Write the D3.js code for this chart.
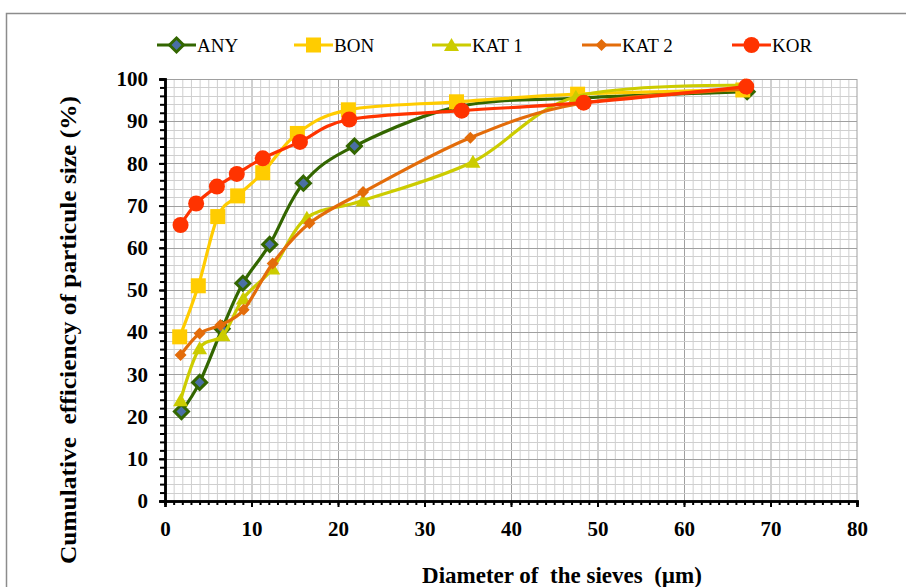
<!DOCTYPE html>
<html>
<head>
<meta charset="utf-8">
<script src="https://cdn.jsdelivr.net/npm/d3@7/dist/d3.min.js"></script>
<style>
  html, body { margin: 0; padding: 0; background: #fff; }
  svg { display: block; }
  text { font-family: "Liberation Serif", "Times New Roman", serif; white-space: pre; }
</style>
</head>
<body>
<svg id="chart" width="906" height="587"></svg>
<script>
// Sieve diameters (µm) and cumulative efficiency (%) per sample
const seriesNames = ["ANY", "BON", "KAT 1", "KAT 2", "KOR"];
const anyX  = [1.9, 4.0, 6.6, 9.0, 12.1, 16.0, 21.9, 34.0, 48.0, 67.3];
const anyY  = [21.2, 28.1, 40.8, 51.6, 60.8, 75.3, 84.1, 93.5, 95.5, 97.0];
const bonX  = [1.7, 3.85, 6.1, 8.4, 11.3, 15.3, 21.2, 33.7, 47.7, 66.8];
const bonY  = [38.9, 51.0, 67.4, 72.3, 77.8, 87.1, 92.7, 94.6, 96.4, 97.4];
const kat1X = [1.8, 4.0, 6.7, 9.05, 12.45, 16.4, 22.9, 35.6, 47.5, 67.0];
const kat1Y = [23.9, 36.2, 39.3, 48.0, 55.1, 67.1, 71.2, 80.4, 95.8, 98.5];
const kat2X = [1.8, 4.0, 6.4, 9.1, 12.45, 16.7, 22.9, 35.3, 48.0, 67.3];
const kat2Y = [34.6, 39.7, 41.7, 45.3, 56.3, 65.8, 73.2, 86.1, 94.2, 97.6];
const korX  = [1.8, 3.6, 6.0, 8.3, 11.3, 15.6, 21.3, 34.3, 48.4, 67.2];
const korY  = [65.4, 70.5, 74.5, 77.5, 81.2, 85.1, 90.4, 92.5, 94.4, 98.2];
const xTicks = [0, 10, 20, 30, 40, 50, 60, 70, 80];
const yTicks = [0, 10, 20, 30, 40, 50, 60, 70, 80, 90, 100];

const seriesX = [anyX, bonX, kat1X, kat2X, korX];
const seriesY = [anyY, bonY, kat1Y, kat2Y, korY];

const styles = {
  "ANY":   { line: "#336600", fill: "#4a6fa5", stroke: "#336600", shape: "diamond" },
  "BON":   { line: "#ffcc00", fill: "#ffcc00", stroke: "#ffcc00", shape: "square" },
  "KAT 1": { line: "#cccc00", fill: "#cccc00", stroke: "#cccc00", shape: "triangle" },
  "KAT 2": { line: "#e36c0a", fill: "#e36c0a", stroke: "#e36c0a", shape: "smalldiamond" },
  "KOR":   { line: "#ff3300", fill: "#ff3300", stroke: "#ff3300", shape: "circle" }
};

const svg = d3.select("#chart");
const plot = { left: 165, right: 857, top: 79, bottom: 501 };

const x = d3.scaleLinear().domain([0, 80]).range([plot.left, plot.right]);
const y = d3.scaleLinear().domain([0, 100]).range([plot.bottom, plot.top]);

// Outer frame
svg.append("rect")
  .attr("x", 6.5).attr("y", 13.5)
  .attr("width", 1000).attr("height", 1000)
  .attr("fill", "#fff").attr("stroke", "#8c8c8c").attr("stroke-width", 1.5);

// Grid: fine lines every 1 µm and every 2 %, heavier every 10
const grid = svg.append("g");
d3.range(1, 80).forEach(v => {
  grid.append("line")
    .attr("x1", x(v) + 0.5).attr("x2", x(v) + 0.5)
    .attr("y1", plot.top).attr("y2", plot.bottom)
    .attr("stroke", v % 10 === 0 ? "#a0a0a0" : "#cfcfcf").attr("stroke-width", 1);
});
d3.range(2, 101, 2).forEach(v => {
  grid.append("line")
    .attr("x1", plot.left).attr("x2", plot.right)
    .attr("y1", Math.round(y(v)) + 0.5).attr("y2", Math.round(y(v)) + 0.5)
    .attr("stroke", v % 10 === 0 ? "#a0a0a0" : "#cfcfcf").attr("stroke-width", 1);
});
grid.append("line")
  .attr("x1", plot.right).attr("x2", plot.right)
  .attr("y1", plot.top).attr("y2", plot.bottom)
  .attr("stroke", "#a0a0a0");

// Axes
const xAxisMinor = d3.axisBottom(x).tickValues(d3.range(0, 81, 1)).tickSize(4).tickFormat("");
const xAxis = d3.axisBottom(x).tickValues(xTicks).tickSize(6).tickPadding(14).tickFormat(d3.format("d"));
const yAxisMinor = d3.axisLeft(y).tickValues(d3.range(0, 101, 2)).tickSize(5).tickFormat("");
const yAxis = d3.axisLeft(y).tickValues(yTicks).tickSize(6).tickPadding(11).tickFormat(d3.format("d"));

function styleAxis(g) {
  g.selectAll(".domain").attr("stroke", "#000").attr("stroke-width", 2.5);
  g.selectAll(".tick line").attr("stroke", "#000").attr("stroke-width", 2);
  g.selectAll("text")
    .attr("fill", "#000")
    .style("font-family", "'Liberation Serif', 'Times New Roman', serif")
    .style("font-size", "21px").style("font-weight", "bold");
}

svg.append("g").attr("transform", `translate(0,${plot.bottom})`).call(xAxisMinor).call(styleAxis);
svg.append("g").attr("transform", `translate(0,${plot.bottom})`).call(xAxis).call(styleAxis);
svg.append("g").attr("transform", `translate(${plot.left},0)`).call(yAxisMinor).call(styleAxis);
svg.append("g").attr("transform", `translate(${plot.left},0)`).call(yAxis).call(styleAxis);

// Axis titles
svg.append("text")
  .attr("x", 562).attr("y", 583)
  .attr("text-anchor", "middle")
  .style("font-size", "23px").style("font-weight", "bold")
  .text("Diameter of  the sieves  (µm)");

svg.append("text")
  .attr("transform", "translate(76,330) rotate(-90)")
  .attr("text-anchor", "middle")
  .attr("textLength", 468).attr("lengthAdjust", "spacingAndGlyphs")
  .style("font-size", "24px").style("font-weight", "bold")
  .text("Cumulative  efficiency of particule size (%)");

// Marker shapes
function marker(g, shape, st) {
  let m;
  if (shape === "diamond") {
    m = g.append("path").attr("d", "M0,-7L7,0L0,7L-7,0Z")
      .attr("fill", st.fill).attr("stroke", st.stroke).attr("stroke-width", 3);
  } else if (shape === "smalldiamond") {
    m = g.append("path").attr("d", "M0,-6L6,0L0,6L-6,0Z").attr("fill", st.fill);
  } else if (shape === "square") {
    m = g.append("rect").attr("x", -7.5).attr("y", -7.5).attr("width", 15).attr("height", 15)
      .attr("fill", st.fill);
  } else if (shape === "triangle") {
    m = g.append("path").attr("d", "M0,-7L7.5,6L-7.5,6Z").attr("fill", st.fill);
  } else {
    m = g.append("circle").attr("r", 8).attr("fill", st.fill);
  }
  return m;
}

// Series: smoothed lines with markers
const line = d3.line()
  .x(d => x(d[0])).y(d => y(d[1]))
  .curve(d3.curveCardinal.tension(0));

seriesNames.forEach((name, i) => {
  const st = styles[name];
  const pts = seriesX[i].map((v, j) => [v, seriesY[i][j]]);
  const g = svg.append("g");
  g.append("path")
    .attr("d", line(pts))
    .attr("fill", "none").attr("stroke", st.line).attr("stroke-width", 3.2);
  pts.forEach(p => {
    const mg = g.append("g").attr("transform", `translate(${x(p[0])},${y(p[1])})`);
    marker(mg, st.shape, st);
  });
});

// Legend
const legendX = [157, 294, 432, 582, 732];
seriesNames.forEach((name, i) => {
  const st = styles[name];
  const g = svg.append("g").attr("transform", `translate(${legendX[i]},45)`);
  g.append("line").attr("x1", 0).attr("x2", 39).attr("y1", 0).attr("y2", 0)
    .attr("stroke", st.line).attr("stroke-width", 3.2);
  marker(g.append("g").attr("transform", "translate(19.5,0)"), st.shape, st);
  g.append("text").attr("x", 40).attr("y", 6.5)
    .style("font-size", "19px").attr("fill", "#000")
    .text(name);
});
</script>
</body>
</html>
